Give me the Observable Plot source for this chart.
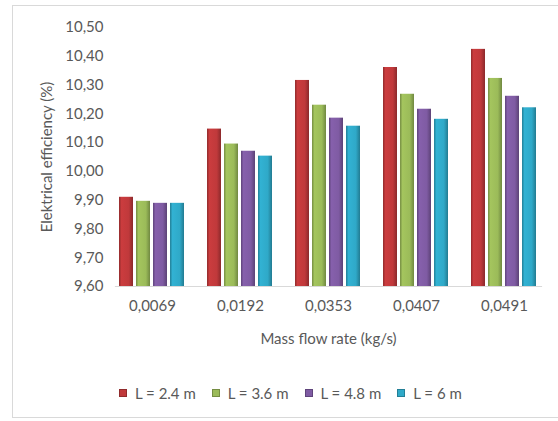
<!DOCTYPE html>
<html>
<head>
<meta charset="utf-8">
<script src="https://cdn.jsdelivr.net/npm/d3@7"></script>
<script src="https://cdn.jsdelivr.net/npm/@observablehq/plot@0.6"></script>
<style>
  body { margin: 0; background: #fff; font-family: Lato, "Open Sans", sans-serif; }
  #wrap { position: relative; width: 558px; height: 421px; overflow: hidden; }
  #border { position: absolute; left: 12px; top: 5px; width: 600px; height: 413px; border: 1px solid #d9d9d9; box-sizing: border-box; }
  #chart { position: absolute; left: 0; top: 0; }
  #legend { position: absolute; left: 119px; top: 384px; display: flex; align-items: center; font-size: 15px; color: #595959; }
  .item { display: flex; align-items: center; margin-right: 16px; }
  .sw { width: 8px; height: 8px; margin-right: 8px; }
</style>
</head>
<body>
<div id="wrap">
  <div id="border"></div>
  <div id="chart"></div>
  <div id="legend"></div>
</div>
<script>
const flowRates = ["0,0069", "0,0192", "0,0353", "0,0407", "0,0491"];
const seriesNames = ["L = 2.4 m", "L = 3.6 m", "L = 4.8 m", "L = 6 m"];
const valsL24 = [9.91, 10.147, 10.316, 10.361, 10.424];
const valsL36 = [9.896, 10.095, 10.23, 10.268, 10.323];
const valsL48 = [9.889, 10.07, 10.185, 10.216, 10.261];
const valsL6  = [9.889, 10.053, 10.157, 10.181, 10.221];
const yTicks = [9.6, 9.7, 9.8, 9.9, 10.0, 10.1, 10.2, 10.3, 10.4, 10.5];
const colors = ["#C0393B", "#9BBB59", "#7F5BA3", "#2FA9C8"];

const allVals = [valsL24, valsL36, valsL48, valsL6];
const rows = [];
flowRates.forEach((f, i) => {
  seriesNames.forEach((s, j) => rows.push({flow: f, series: s, value: allVals[j][i]}));
});

const fmt = d => d.toFixed(2).replace(".", ",");

const plot = Plot.plot({
  width: 558,
  height: 360,
  marginLeft: 113,
  marginRight: 15,
  marginTop: 27,
  marginBottom: 74,
  style: {fontFamily: "Lato, 'Open Sans', sans-serif", fontSize: "15px", color: "#595959", background: "transparent"},
  fx: {domain: flowRates, padding: 0.16, label: "Mass flow rate (kg/s)", labelAnchor: "center", labelArrow: "none", tickSize: 0, tickPadding: 14, labelOffset: 57},
  x: {domain: seriesNames, axis: null, padding: 0.15},
  y: {domain: [9.6, 10.5], ticks: yTicks, tickFormat: fmt, tickSize: 0, tickPadding: 12,
      label: "Elektrical efficiency (%)", labelAnchor: "center", labelArrow: "none", labelOffset: 74},
  color: {domain: seriesNames, range: colors.map((c, i) => `url(#grad${i})`)},
  marks: [
    Plot.barY(rows, {fx: "flow", x: "series", y1: () => 9.6, y2: "value", fill: "series"}),
    Plot.frame({anchor: "bottom", stroke: "#d9d9d9", strokeWidth: 1.2, facet: "super"})
  ]
});

// gradients for beveled bar look
const svg = d3.select(plot);
const defs = svg.insert("defs", ":first-child");
colors.forEach((c, i) => {
  const base = d3.color(c);
  const g = defs.append("linearGradient").attr("id", `grad${i}`).attr("x1", "0").attr("x2", "1").attr("y1", "0").attr("y2", "0");
  g.append("stop").attr("offset", "0%").attr("stop-color", base.darker(0.8));
  g.append("stop").attr("offset", "18%").attr("stop-color", base.brighter(0.15));
  g.append("stop").attr("offset", "70%").attr("stop-color", base);
  g.append("stop").attr("offset", "100%").attr("stop-color", base.darker(0.9));
});

document.getElementById("chart").appendChild(plot);

const legend = d3.select("#legend");
seriesNames.forEach((s, i) => {
  const it = legend.append("div").attr("class", "item");
  it.append("div").attr("class", "sw").style("background", colors[i]).style("border", `1px solid ${d3.color(colors[i]).darker(0.8)}`).style("box-sizing", "border-box");
  it.append("span").text(s);
});
</script>
</body>
</html>
